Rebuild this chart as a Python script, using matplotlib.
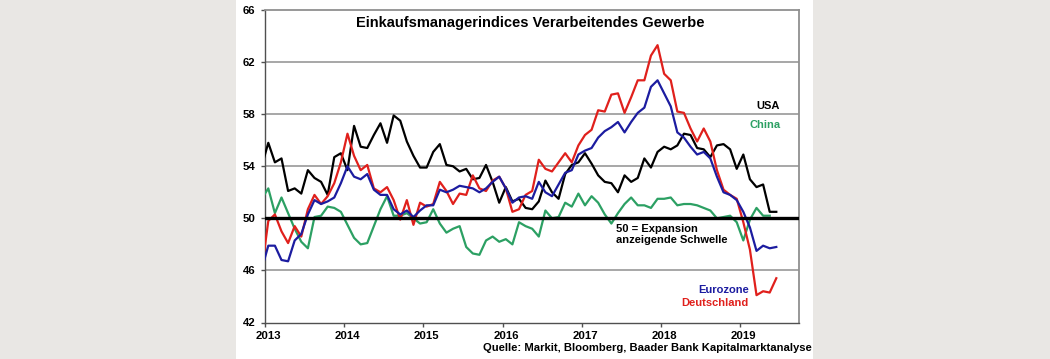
import numpy as np
import pandas as pd
import matplotlib
matplotlib.use("Agg")
import matplotlib.pyplot as plt
import matplotlib.transforms as mtransforms
from matplotlib.patches import Rectangle

plt.rcParams["font.family"] = ["Liberation Sans", "DejaVu Sans"]

SCHWARZ = "#000000"
BLAU = "#1c1ca0"
ROT = "#e0201c"
GRUEN = "#2ca063"
GRAU = "#a0a0a0"

# Monatswerte Dez 2012 - Jun 2019 (China bis Mai 2019)
START = "2012-12-01"

EUROZONE = [
    46.1,
    47.9, 47.9, 46.8, 46.7, 48.3, 48.8, 50.3, 51.4, 51.1, 51.3, 51.6, 52.7,
    54.0, 53.2, 53.0, 53.4, 52.2, 51.8, 51.8, 50.7, 50.3, 50.6, 50.1, 50.6,
    51.0, 51.0, 52.2, 52.0, 52.2, 52.5, 52.4, 52.3, 52.0, 52.3, 52.8, 53.2,
    52.3, 51.2, 51.6, 51.7, 51.5, 52.8, 52.0, 51.7, 52.6, 53.5, 53.7, 54.9,
    55.2, 55.4, 56.2, 56.7, 57.0, 57.4, 56.6, 57.4, 58.1, 58.5, 60.1, 60.6,
    59.6, 58.6, 56.6, 56.2, 55.5, 54.9, 55.1, 54.6, 53.2, 52.0, 51.8, 51.4,
    50.5, 49.3, 47.5, 47.9, 47.7, 47.8,
]

DEUTSCHLAND = [
    46.0,
    49.8, 50.3, 49.0, 48.1, 49.4, 48.6, 50.7, 51.8, 51.1, 51.7, 52.7, 54.3,
    56.5, 54.8, 53.7, 54.1, 52.3, 52.0, 52.4, 51.4, 49.9, 51.4, 49.5, 51.2,
    50.9, 51.1, 52.8, 52.1, 51.1, 51.9, 51.8, 53.3, 52.3, 52.1, 52.9, 53.2,
    52.3, 50.5, 50.7, 51.8, 52.1, 54.5, 53.8, 53.6, 54.3, 55.0, 54.3, 55.6,
    56.4, 56.8, 58.3, 58.2, 59.5, 59.6, 58.1, 59.3, 60.6, 60.6, 62.5, 63.3,
    61.1, 60.6, 58.2, 58.1, 56.9, 55.9, 56.9, 55.9, 53.7, 52.2, 51.8, 51.5,
    49.7, 47.6, 44.1, 44.4, 44.3, 45.4,
]

USA = [
    54.0,
    55.8, 54.3, 54.6, 52.1, 52.3, 51.9, 53.7, 53.1, 52.8, 51.8, 54.7, 55.0,
    53.7, 57.1, 55.5, 55.4, 56.4, 57.3, 55.8, 57.9, 57.5, 55.9, 54.8, 53.9,
    53.9, 55.1, 55.7, 54.1, 54.0, 53.6, 53.8, 53.0, 53.1, 54.1, 52.8, 51.2,
    52.4, 51.3, 51.5, 50.8, 50.7, 51.3, 52.9, 52.0, 51.5, 53.4, 54.1, 54.3,
    55.0, 54.2, 53.3, 52.8, 52.7, 52.0, 53.3, 52.8, 53.1, 54.6, 53.9, 55.1,
    55.5, 55.3, 55.6, 56.5, 56.4, 55.4, 55.3, 54.7, 55.6, 55.7, 55.3, 53.8,
    54.9, 53.0, 52.4, 52.6, 50.5, 50.5,
]

CHINA = [
    51.5,
    52.3, 50.4, 51.6, 50.4, 49.2, 48.2, 47.7, 50.1, 50.2, 50.9, 50.8, 50.5,
    49.5, 48.5, 48.0, 48.1, 49.4, 50.7, 51.7, 50.2, 50.2, 50.4, 50.0, 49.6,
    49.7, 50.7, 49.6, 48.9, 49.2, 49.4, 47.8, 47.3, 47.2, 48.3, 48.6, 48.2,
    48.4, 48.0, 49.7, 49.4, 49.2, 48.6, 50.6, 50.0, 50.1, 51.2, 50.9, 51.9,
    51.0, 51.7, 51.2, 50.3, 49.6, 50.4, 51.1, 51.6, 51.0, 51.0, 50.8, 51.5,
    51.5, 51.6, 51.0, 51.1, 51.1, 51.0, 50.8, 50.6, 50.0, 50.1, 50.2, 49.7,
    48.3, 49.9, 50.8, 50.2, 50.2,
]

JAHRE = [2013, 2014, 2015, 2016, 2017, 2018, 2019]
Y_TICKS = [42, 46, 50, 54, 58, 62, 66]


def monatsachse(n):
    # Monatsmitte als Dezimaljahr
    d = pd.date_range(START, periods=n, freq="MS")
    return d.year + (d.month - 0.5) / 12


fig = plt.figure(figsize=(10.5, 3.59), dpi=100)
fig.patch.set_facecolor("#e9e7e4")
fig.patches.append(Rectangle((236 / 1050, 0), 577 / 1050, 1,
                             transform=fig.transFigure, facecolor="white",
                             edgecolor="none", zorder=-10))

ax = fig.add_axes([265 / 1050, 36.5 / 359, 534 / 1050, 312.5 / 359])
ax.set_zorder(1)
ax.set_xlim(2013, 2019.745)
ax.set_ylim(42, 66)

for y in [46, 54, 58, 62]:
    ax.axhline(y, color=GRAU, lw=1.3, zorder=1)
ax.axhline(50, color=SCHWARZ, lw=2.4, zorder=4)

kw = dict(lw=1.6, zorder=3, clip_on=True)
ax.plot(monatsachse(len(CHINA)), CHINA, color=GRUEN, **kw)
ax.plot(monatsachse(len(USA)), USA, color=SCHWARZ, **kw)
ax.plot(monatsachse(len(DEUTSCHLAND)), DEUTSCHLAND, color=ROT, **kw)
ax.plot(monatsachse(len(EUROZONE)), EUROZONE, color=BLAU, **kw)

ax.set_xticks(JAHRE)
ax.set_xticklabels([str(j) for j in JAHRE])
ax.set_yticks(Y_TICKS)
ax.tick_params(axis="both", direction="out", length=3, width=1,
               color="#505050", labelsize=8.2)
ax.tick_params(axis="x", pad=3)
ax.tick_params(axis="y", pad=4)
# Jahreszahlen im Original leicht nach rechts versetzt
versatz = mtransforms.ScaledTranslation(0.035, 0, fig.dpi_scale_trans)
for lab in ax.get_xticklabels():
    lab.set_transform(lab.get_transform() + versatz)
for lab in ax.get_xticklabels() + ax.get_yticklabels():
    lab.set_fontweight("bold")

for s in ["left", "bottom"]:
    ax.spines[s].set_color("#505050")
    ax.spines[s].set_linewidth(1)
for s in ["top", "right"]:
    ax.spines[s].set_color("#909090")
    ax.spines[s].set_linewidth(1.3)

ax.text(0.496, 0.96, "Einkaufsmanagerindices Verarbeitendes Gewerbe",
        transform=ax.transAxes, ha="center", va="center",
        fontsize=10.5, fontweight="bold")

fett = dict(fontsize=8, fontweight="bold")
ax.text(2019.50, 58.65, "USA", ha="right", va="center", color=SCHWARZ, **fett)
ax.text(2019.515, 57.13, "China", ha="right", va="center", color=GRUEN, **fett)
ax.text(2017.43, 48.77, "50 = Expansion\nanzeigende Schwelle", ha="left",
        va="center", color=SCHWARZ, linespacing=1.2, **fett)
ax.text(2019.11, 44.5, "Eurozone", ha="right", va="center", color=BLAU, **fett)
ax.text(2019.11, 43.46, "Deutschland", ha="right", va="center", color=ROT,
        **fett)

fig.text(811.7 / 1050, 11.3 / 359,
         "Quelle: Markit, Bloomberg, Baader Bank Kapitalmarktanalyse",
         ha="right", va="center", fontsize=8.1, fontweight="bold")

fig.savefig("out.png", dpi=100, facecolor=fig.get_facecolor())
